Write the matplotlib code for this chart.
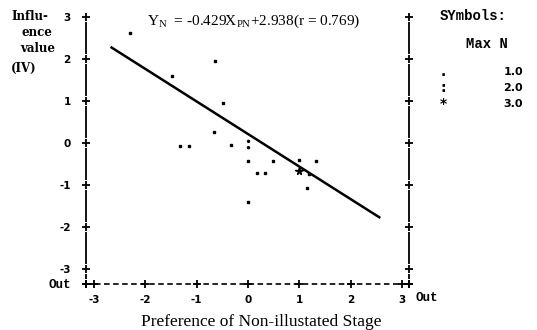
import matplotlib
matplotlib.use("Agg")
import matplotlib.pyplot as plt
import numpy as np

plt.rcParams['mathtext.fontset'] = 'custom'
plt.rcParams['mathtext.rm'] = 'Liberation Serif'
plt.rcParams['lines.scale_dashes'] = False

# data (standardised units)
x_single = [-2.30, -1.48, -0.64, -0.49, -0.66, -1.32, -1.16, -0.33, 0.00, 0.49,
            0.99, 1.32, 0.17, 0.33, 1.19, 1.16, 0.00]
y_single = [2.61, 1.60, 1.94, 0.94, 0.27, -0.07, -0.07, -0.06, -0.42, -0.42,
            -0.41, -0.42, -0.72, -0.72, -0.74, -1.08, -1.40]
x_double = [0.00]
y_double = [-0.03]
x_triple = [1.00]
y_triple = [-0.66]

fit_slope = -0.774
fit_intercept = 0.21
fit_range = [-2.66, 2.56]

ticks = [-3, -2, -1, 0, 1, 2, 3]
tick_labels = ['-3', '-2', '-1', '0', '1', '2', '3']
legend_symbols = ['.', ':', '*']
legend_labels = ['1.0', '2.0', '3.0']

W, H = 537, 330
fig = plt.figure(figsize=(W / 100, H / 100), dpi=100)
ax = fig.add_axes([86 / W, 46 / H, 323 / W, 268 / H])
xlo, xhi = -3.16, 3.14
ylo, yhi = -3.36, 3.02
ax.set_xlim(xlo, xhi)
ax.set_ylim(ylo, yhi)
for s in ax.spines.values():
    s.set_visible(False)

# left and right axes: solid bits between '+' marks
ypos = [ylo] + ticks
for xs in (xlo, xhi):
    for a, b in zip(ypos[:-1], ypos[1:]):
        ax.plot([xs, xs], [a + 0.12, b - 0.12], color='black', lw=1.3,
                clip_on=False, solid_capstyle='butt')
    ax.plot([xs] * len(ypos), ypos, ls='none', marker='+', ms=6, mew=1.3,
            color='black', clip_on=False)

# bottom axis: dashed with '+' marks
ax.plot([xlo, xhi], [ylo, ylo], color='black', lw=1.2, ls=(0, (4, 2.5)),
        clip_on=False)
ax.plot([xlo] + ticks + [xhi], [ylo] * (len(ticks) + 2), ls='none', marker='+',
        ms=6, mew=1.3, color='black', clip_on=False)

ax.set_xticks(ticks)
ax.set_xticklabels(tick_labels)
ax.set_yticks([ylo] + ticks)
ax.set_yticklabels(['Out'] + tick_labels)
ax.tick_params(length=0)
ax.tick_params(axis='y', pad=11)
ax.tick_params(axis='x', pad=8)
for lab in ax.get_xticklabels() + ax.get_yticklabels():
    lab.set_fontweight('bold')
    lab.set_fontsize(7.5)
ax.get_yticklabels()[0].set_family('Liberation Mono')
ax.get_yticklabels()[0].set_fontsize(9)


def ft(px, py, s, **kw):
    fig.text(px / W, 1 - py / H, s, **kw)


ft(427, 298, 'Out', family='Liberation Mono', fontweight='bold', fontsize=9,
   ha='center', va='center')

# regression line
fx = np.array(fit_range)
ax.plot(fx, fit_slope * fx + fit_intercept, color='black', lw=1.8)

# points
ax.plot(x_single, y_single, ls='none', marker='s', ms=1.9, color='black')
ax.plot(x_double, y_double, ls='none', marker='$:$', ms=6, color='black')
ax.plot(x_triple, y_triple, ls='none', marker='*', ms=5.5, color='black')

ylab_kw = dict(family='DejaVu Serif', fontweight='bold', fontsize=8.5, va='center')
ft(11, 16, 'Influ-', **ylab_kw)
ft(22, 33, 'ence', **ylab_kw)
ft(20, 48, 'value', **ylab_kw)
ft(11, 68, '(IV)', **ylab_kw)

ft(147, 21, r'Y$_\mathrm{N}$  = -0.429X$_\mathrm{PN}$+2.938(r = 0.769)',
   family='Liberation Serif', fontsize=11, va='center')

ft(261, 322, 'Preference of Non-illustated Stage', family='Liberation Serif',
   fontsize=12.5, ha='center', va='center')

ft(440, 16, 'SYmbols:', family='Liberation Mono', fontweight='bold', fontsize=10, va='center')
ft(466, 44, 'Max N', family='Liberation Mono', fontweight='bold', fontsize=10, va='center')
for i, (sym, lab) in enumerate(zip(legend_symbols, legend_labels)):
    yy = 72 + 16 * i
    ft(443, yy, sym, fontsize=10, fontweight='bold', ha='center', va='center')
    ft(523, yy, lab, fontsize=8, fontweight='bold', ha='right', va='center')

fig.savefig('out.png', dpi=100)
